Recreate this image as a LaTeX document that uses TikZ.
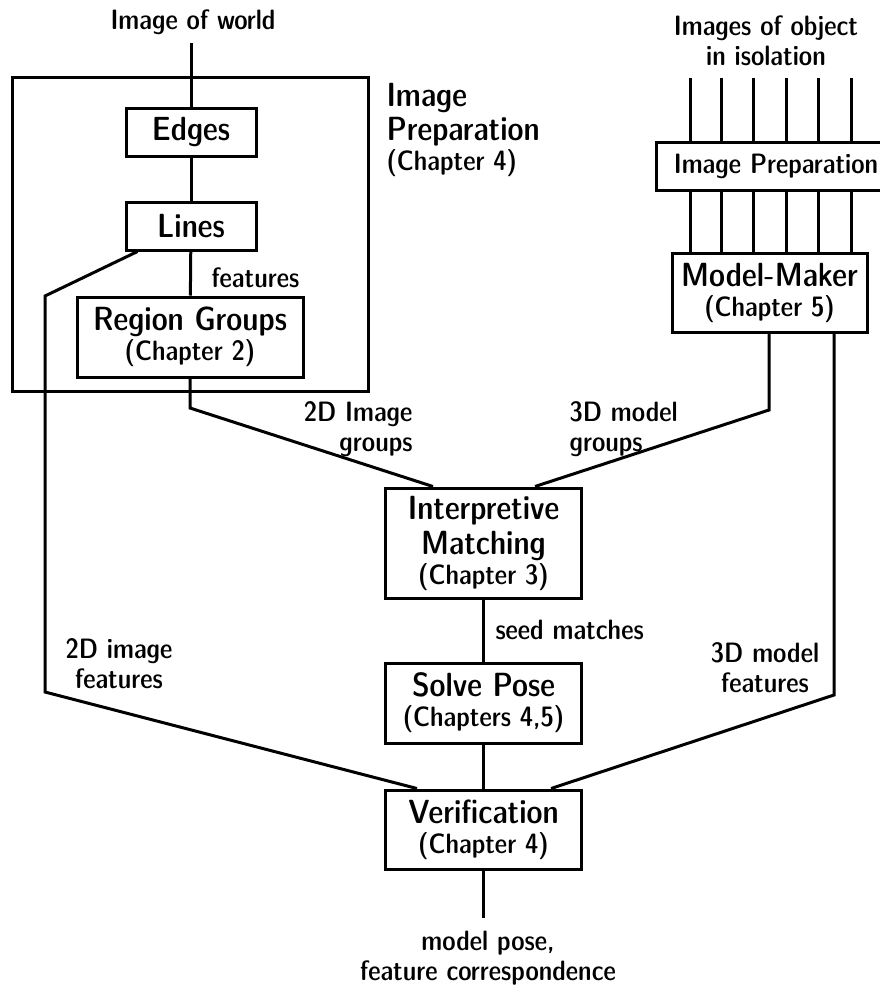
\documentclass[tikz,border=0pt]{standalone}
\usepackage{tikz}
\usetikzlibrary{calc}

\newcommand\boxfont{\sffamily\fontseries{sbc}\fontsize{33.5}{39}\selectfont}
\newcommand\lblfont{\sffamily\fontseries{sbc}\fontsize{28}{30}\selectfont}

\begin{document}
\begin{tikzpicture}[x=1pt,y=-1pt,line width=3pt,
    blk/.style={draw, inner sep=0pt, align=center, font=\lblfont},
    lbl/.style={inner sep=0pt, font=\lblfont}]
    \useasboundingbox (0,0) rectangle (880,989);

    % 左边: 图像预处理
    \draw (12.5,77.5) rectangle (368,391);
    \node[lbl] (world) at (193,22) {Image of world};
    \node[blk, minimum width=130pt, minimum height=48pt, font=\boxfont] (edges) at (191,132) {Edges};
    \node[blk, minimum width=130pt, minimum height=48pt, font=\boxfont] (lines) at (191,226) {Lines};
    \node[blk, minimum width=226pt, minimum height=80pt] (region) at (190,337) {{\boxfont Region Groups}\\(Chapter 2)};
    \node[lbl, anchor=north west, align=left] (preplbl) at (385,82) {{\boxfont Image}\\[4pt]{\boxfont Preparation}\\(Chapter 4)};
    \node[lbl, anchor=west] (feat) at (210,278) {features};

    % 右边: 模型
    \node[lbl, align=center] (objs) at (766,41) {Images of object\\in isolation};
    \node[blk, minimum width=240pt, minimum height=48pt] (rprep) at (776,166) {Image Preparation};
    \node[blk, minimum width=195pt, minimum height=79pt] (mm) at (769.5,292.5) {{\boxfont Model-Maker}\\(Chapter 5)};
    \foreach \x in {690,721,753,786,818,851} {
        \draw (\x,78) -- (\x,0 |- rprep.north);
        \draw (\x,0 |- rprep.south) -- (\x,0 |- mm.north);
    }

    % 中间
    \node[blk, minimum width=196pt, minimum height=110pt] (interp) at (483.5,543) {{\boxfont Interpretive}\\[5pt]{\boxfont Matching}\\(Chapter 3)};
    \node[blk, minimum width=196pt, minimum height=80pt] (solve) at (483.5,703) {{\boxfont Solve Pose}\\(Chapters 4,5)};
    \node[blk, minimum width=196pt, minimum height=79pt] (verif) at (483.5,829.5) {{\boxfont Verification}\\(Chapter 4)};

    \coordinate (top) at (191,43);
    \coordinate (lb1) at (45,296);
    \coordinate (lb2) at (45,692);
    \coordinate (rg) at (190,408);
    \coordinate (mg) at (769,410);
    \coordinate (rb) at (834,695);
    \coordinate (out) at (483.5,918);

    \draw (top) -- (edges.north);
    \draw (edges) -- (lines);
    \draw (lines) -- (region);
    \draw ($(lines.south west)+(13,0)$) -- (lb1) -- (lb2) -- ($(verif.north west)+(33,0)$);
    \draw (region.south) -- (rg) -- ($(interp.north west)+(49,0)$);
    \draw (mm.south -| mg) -- (mg) -- ($(interp.north east)+(-48,0)$);
    \draw (mm.south -| rb) -- (rb) -- ($(verif.north east)+(-32,0)$);
    \draw (interp) -- (solve);
    \draw (solve) -- (verif);
    \draw (verif) -- (out);

    \node[lbl, anchor=north east, align=right] (rgl) at (414,400) {2D Image\\groups};
    \node[lbl, anchor=north west, align=left] (mgl) at (568,400) {3D model\\groups};
    \node[lbl, anchor=west] (seed) at (494,630) {seed matches};
    \node[lbl, align=center] (lf) at (119,664) {2D image\\features};
    \node[lbl, align=center] (rf) at (765,668) {3D model\\features};
    \node[lbl, align=center] (res) at (488,958) {model pose,\\feature correspondence};
\end{tikzpicture}
\end{document}
